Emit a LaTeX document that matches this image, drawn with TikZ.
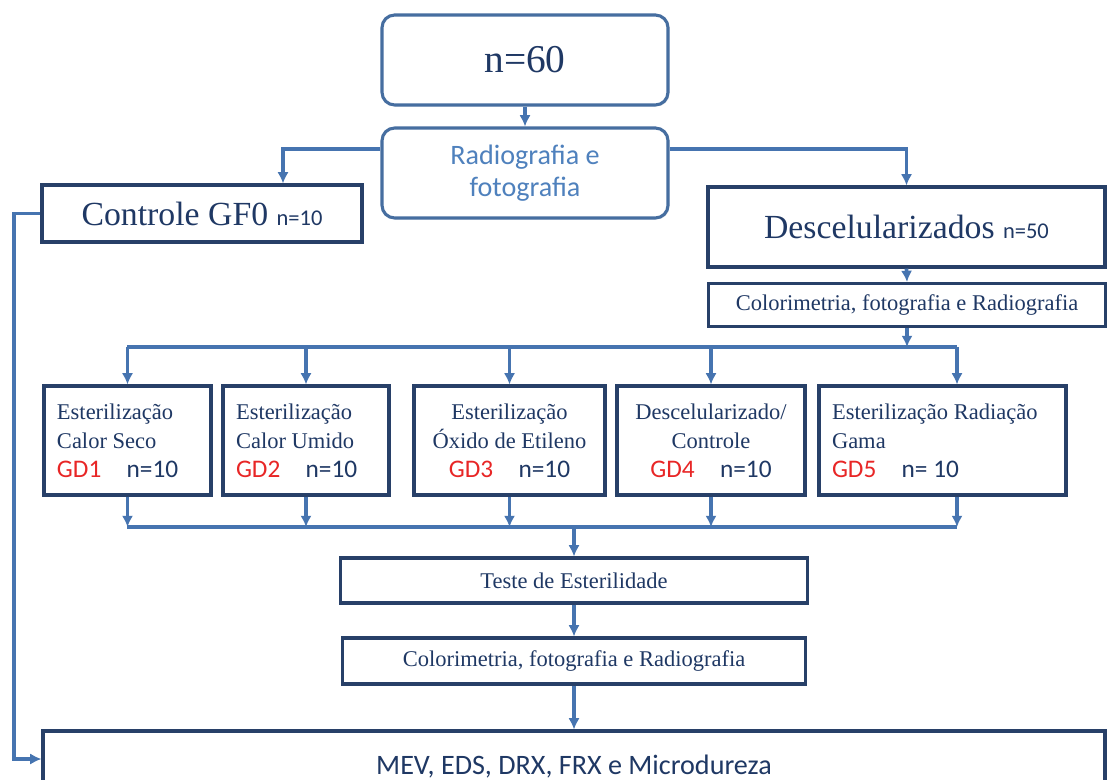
\documentclass[tikz,border=0pt]{standalone}
\usepackage{fontspec}
\setmainfont{Liberation Serif}
\newfontfamily\carl{Carlito}
\usepackage{xcolor}
\usetikzlibrary{arrows.meta,shadows}
\definecolor{flowline}{RGB}{70,116,176}
\definecolor{flowedge}{RGB}{40,64,104}
\definecolor{flowround}{RGB}{70,110,160}
\definecolor{flowtext}{RGB}{31,56,100}
\definecolor{flowlight}{RGB}{79,129,189}
\definecolor{flowred}{RGB}{232,38,38}
\newcommand\px{0.025cm}
\tikzset{
 flowbox/.style={draw=flowedge, line width=2.2pt, fill=white, inner sep=0pt,
        drop shadow={opacity=0.2, shadow xshift=1pt, shadow yshift=-1pt},
        text=flowtext, font=\fontsize{16}{20.5}\selectfont},
 flowbox round/.style={flowbox, draw=flowround, rounded corners=9pt},
 gdbox/.style={flowbox, minimum height=109*\px},
 bus/.style={draw=flowline, line width=2.6pt},
 flow/.style={bus, -{Latex[length=8pt,width=8pt]}},
}

\begin{document}
\begin{tikzpicture}[x=\px, y=-\px]
\clip (0,0) rectangle (1109,780);
\fill[white] (0,0) rectangle (1109,780);
% top of the chart
\node[flowbox round, minimum width=286*\px, minimum height=90*\px,
   font=\fontsize{28}{32}\selectfont] (total) at (525,60) {n=60};
\node[flowbox round, minimum width=286*\px, minimum height=90*\px, align=flush center,
   text=flowlight, font=\carl\fontsize{20}{23}\selectfont] (radio) at (525,173)
   {Radiografia e\\fotografia};
\node[flowbox, minimum width=320*\px, minimum height=57*\px,
   font=\fontsize{24}{28}\selectfont] (ctrl) at (202,213.5)
   {Controle GF0 {\carl\fontsize{16}{20}\selectfont n=10}};
\node[flowbox, minimum width=397*\px, minimum height=80*\px,
   font=\fontsize{24}{28}\selectfont] (desc) at (906.5,227)
   {Descelularizados {\carl\fontsize{16}{20}\selectfont n=50}};
\node[flowbox, minimum width=397*\px, minimum height=43*\px] (color1) at (907,305)
   {Colorimetria, fotografia e Radiografia};
% the five sterilisation groups
\foreach \nm/\cx/\w/\al/\la/\lb/\gd/\n in {%
 gd1/127.5/167/flush left/Esterilização/Calor Seco/GD1/n=10,
 gd2/306/166/flush left/Esterilização/Calor Umido/GD2/n=10,
 gd3/509.5/191/flush center/Esterilização/Óxido de Etileno/GD3/n=10,
 gd4/711/188/flush center/{Descelularizado/}/Controle/GD4/n=10,
 gd5/942.5/247/flush left/Esterilização Radiação/Gama/GD5/n= 10%
}{
 \pgfmathsetmacro\tw{(\w-26)*0.025}
 \node[gdbox, minimum width=\w*\px, text width=\tw cm, align=\al] (\nm) at (\cx,440.5)
  {\la\\\lb\\{\carl\fontsize{18}{22}\selectfont\textcolor{flowred}{\gd}\quad\n}};
}
\node[flowbox, minimum width=467*\px, minimum height=45*\px] (teste) at (574,580.5)
   {Teste de Esterilidade};
\node[flowbox, minimum width=463*\px, minimum height=46*\px] (color2) at (574,661)
   {Colorimetria, fotografia e Radiografia};
\node[flowbox, minimum width=1062*\px, minimum height=72*\px,
   font=\carl\fontsize{20}{24}\selectfont] (mev) at (574,767)
   {MEV, EDS, DRX, FRX e Microdureza};
% connectors
\coordinate (splitL) at (283,149);
\coordinate (splitR) at (907,149);
\coordinate (busA) at (127,347);
\coordinate (busB) at (957,347);
\coordinate (busC) at (127,527);
\coordinate (busD) at (957,527);
\coordinate (loop) at (14,759);
\draw[flow] (total.south) -- (radio.north);
\draw[flow] (radio.west |- splitL) -| (splitL |- ctrl.north);
\draw[flow] (radio.east |- splitR) -| (desc.north);
\draw[flow] (desc.south) -- (color1.north);
\draw[bus] (busA) -- (busB);
\draw[flow] (color1.south) -- (color1.south |- busA);
\foreach \nm in {gd1,gd2,gd3,gd4}{
 \draw[flow] (\nm.north |- busA) -- (\nm.north);
 \draw[flow] (\nm.south) -- (\nm.south |- busC);
}
\draw[flow] (busB) -- (busB |- gd5.north);
\draw[flow] (busD |- gd5.south) -- (busD);
\draw[bus] (busC) -- (busD);
\draw[flow] (teste.north |- busC) -- (teste.north);
\draw[flow] (teste.south) -- (color2.north);
\draw[flow] (color2.south) -- (mev.north);
\draw[flow] (ctrl.west) -| (loop) -- (loop -| mev.west);
\end{tikzpicture}
\end{document}
